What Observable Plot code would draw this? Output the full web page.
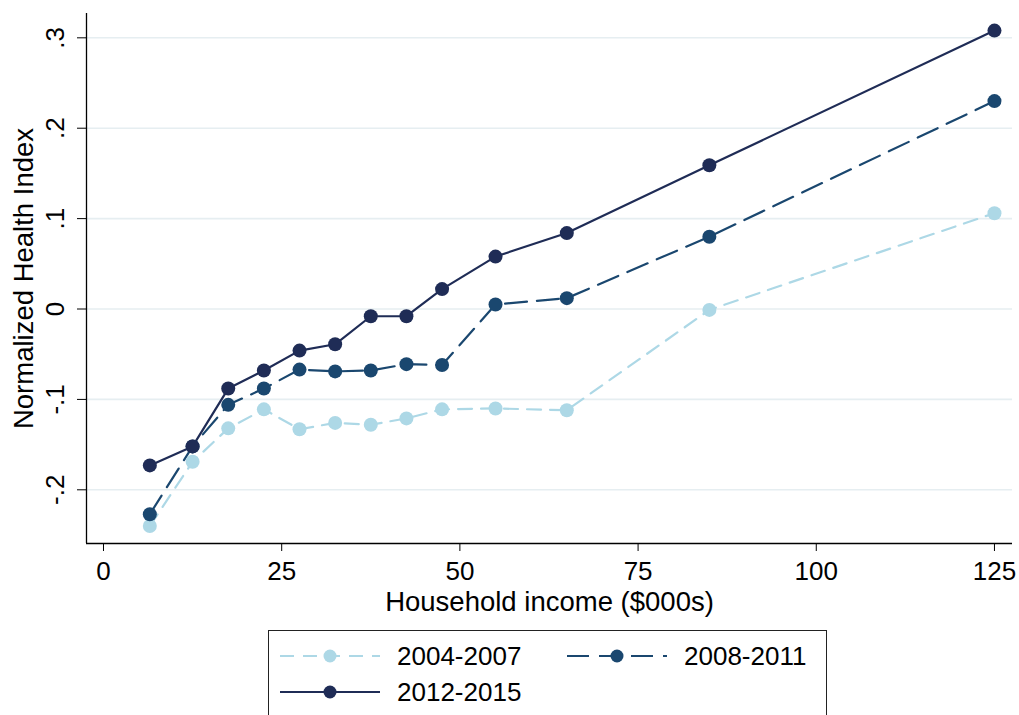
<!DOCTYPE html>
<html>
<head>
<meta charset="utf-8">
<script src="https://cdn.jsdelivr.net/npm/d3@7"></script>
<script src="https://cdn.jsdelivr.net/npm/@observablehq/plot@0.6"></script>
<style>
  html, body { margin: 0; padding: 0; background: #fff; overflow: hidden; }
  body { width: 1019px; height: 715px; font-family: "Liberation Sans", Arial, sans-serif; }
  #legend { position: absolute; left: 268px; top: 630px; width: 559px; height: 120px;
            border: 1px solid #222; box-sizing: border-box; }
  .item { position: absolute; display: flex; align-items: center; font-size: 26px; color: #000; }
  .item svg { margin-right: 17px; }
</style>
</head>
<body>
<div id="chart"></div>
<div id="legend"></div>
<script>
const income = [6.5, 12.5, 17.5, 22.5, 27.5, 32.5, 37.5, 42.5, 47.5, 55, 65, 85, 125];
const s2004 = [-0.240, -0.169, -0.132, -0.111, -0.133, -0.126, -0.128, -0.121, -0.111, -0.110, -0.112, -0.001, 0.106];
const s2008 = [-0.227, -0.152, -0.106, -0.088, -0.067, -0.069, -0.068, -0.061, -0.062, 0.005, 0.012, 0.080, 0.230];
const s2012 = [-0.173, -0.152, -0.088, -0.068, -0.046, -0.039, -0.008, -0.008, 0.022, 0.058, 0.084, 0.159, 0.308];
const seriesNames = ["2004-2007", "2008-2011", "2012-2015"];
const seriesColors = ["#add8e6", "#1a476f", "#1f2c56"];
const seriesDash = ["14,9", "22,10", null];
const xTicks = [0, 25, 50, 75, 100, 125];
const yTicks = [-0.2, -0.1, 0, 0.1, 0.2, 0.3];
const xTitle = "Household income ($000s)";
const yTitle = "Normalized Health Index";

const allSeries = [s2004, s2008, s2012];
const rows = [];
allSeries.forEach((vals, si) => vals.forEach((v, i) => rows.push({series: seriesNames[si], x: income[i], y: v})));

const xDomain = [-2.385, 127.53];
const yDomain = [-0.2594, 0.3269];
const fmtY = d => d === 0 ? "0" : (d < 0 ? "-" : "") + "." + Math.round(Math.abs(d) * 10);

const marks = [
  Plot.gridY(yTicks, {stroke: "#e6eef1", strokeOpacity: 1, strokeWidth: 1.6}),
  Plot.axisY(yTicks, {tickSize: 9, tickPadding: 14, tickRotate: -90, tickFormat: fmtY,
    label: null, fontSize: 26}),
  Plot.axisY([], {tickSize: 0, label: yTitle, labelAnchor: "center", labelOffset: 73, labelArrow: "none",
    fontSize: 27.5}),
  Plot.axisX(xTicks, {tickSize: 8, tickPadding: 10, tickFormat: d => String(d),
    label: null, fontSize: 26}),
  Plot.axisX([], {tickSize: 0, label: xTitle, labelAnchor: "center", labelOffset: 67, labelArrow: "none",
    fontSize: 27.5}),
  Plot.ruleX([xDomain[0]], {stroke: "#000", strokeWidth: 1.3}),
  Plot.ruleY([yDomain[0]], {stroke: "#000", strokeWidth: 1.3})
];
seriesNames.forEach((name, si) => {
  const data = rows.filter(r => r.series === name);
  marks.push(Plot.line(data, {x: "x", y: "y", stroke: seriesColors[si], strokeWidth: 2.2,
    strokeDasharray: seriesDash[si] || undefined}));
});
seriesNames.forEach((name, si) => {
  const data = rows.filter(r => r.series === name);
  marks.push(Plot.dot(data, {x: "x", y: "y", r: 7, fill: seriesColors[si], stroke: null}));
});

const chart = Plot.plot({
  width: 1019,
  height: 625,
  marginLeft: 86,
  marginRight: 7,
  marginTop: 13,
  marginBottom: 82,
  style: {fontFamily: "'Liberation Sans', Arial, sans-serif", fontSize: "26px", color: "#000", background: "#fff"},
  x: {domain: xDomain, axis: null},
  y: {domain: yDomain, axis: null},
  marks
});
document.getElementById("chart").appendChild(chart);

// Legend
const legend = document.getElementById("legend");
const positions = [[11, 25], [298, 25], [11, 61]];
seriesNames.forEach((name, si) => {
  const item = document.createElement("div");
  item.className = "item";
  item.style.left = positions[si][0] + "px";
  item.style.top = (positions[si][1] - 16) + "px";
  item.style.height = "32px";
  const ns = "http://www.w3.org/2000/svg";
  const svg = document.createElementNS(ns, "svg");
  svg.setAttribute("width", 100); svg.setAttribute("height", 32);
  const line = document.createElementNS(ns, "line");
  line.setAttribute("x1", 0); line.setAttribute("x2", 100);
  line.setAttribute("y1", 16); line.setAttribute("y2", 16);
  line.setAttribute("stroke", seriesColors[si]); line.setAttribute("stroke-width", 2.2);
  if (seriesDash[si]) line.setAttribute("stroke-dasharray", seriesDash[si]);
  const c = document.createElementNS(ns, "circle");
  c.setAttribute("cx", 50); c.setAttribute("cy", 16); c.setAttribute("r", 6.5);
  c.setAttribute("fill", seriesColors[si]);
  svg.appendChild(line); svg.appendChild(c);
  const span = document.createElement("span");
  span.textContent = name;
  item.appendChild(svg); item.appendChild(span);
  legend.appendChild(item);
});
</script>
</body>
</html>
